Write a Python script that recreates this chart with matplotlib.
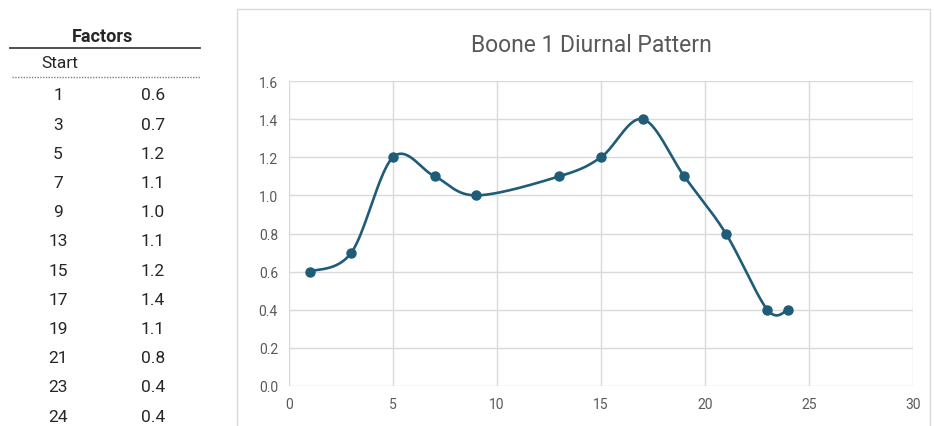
import numpy as np
import matplotlib
matplotlib.use("Agg")
import matplotlib.pyplot as plt
from matplotlib.patches import Rectangle
from matplotlib.lines import Line2D

# Diurnal factors by start hour
start_hours = [1, 3, 5, 7, 9, 13, 15, 17, 19, 21, 23, 24]
factors = [0.6, 0.7, 1.2, 1.1, 1.0, 1.1, 1.2, 1.4, 1.1, 0.8, 0.4, 0.4]
factor_labels = ["0.6", "0.7", "1.2", "1.1", "1.0", "1.1", "1.2", "1.4", "1.1", "0.8", "0.4", "0.4"]

x_ticks = [0, 5, 10, 15, 20, 25, 30]
y_ticks = [0.0, 0.2, 0.4, 0.6, 0.8, 1.0, 1.2, 1.4, 1.6]

title = "Boone 1 Diurnal Pattern"
LINE = "#1f5c78"
TEXT = "#595959"
GRID = "#d9d9d9"

W, H = 934, 427
fig = plt.figure(figsize=(W / 100, H / 100), dpi=100)
fig.patch.set_facecolor("white")


def fx(px):
    return px / W


def fy(py):
    return 1 - py / H


# ---- table of factors on the left ----
tfont = dict(family=["Liberation Sans Narrow", "Roboto"], color="#262626", fontsize=12.5)
fig.text(fx(103), fy(37), "Factors", ha="center", va="center",
         fontweight="bold", **{**tfont, "fontsize": 13})
fig.add_artist(Line2D([fx(10), fx(200)], [fy(49), fy(49)], color="#404040", lw=1.3))
fig.text(fx(60), fy(64), "Start", ha="center", va="center", **tfont)
fig.add_artist(Line2D([fx(12), fx(200)], [fy(78), fy(78)], color="#808080", lw=1.0,
                      linestyle=(0, (1, 1))))
for i, (h, f) in enumerate(zip(start_hours, factor_labels)):
    yy = 96 + i * 29.2
    fig.text(fx(58), fy(yy), str(h), ha="center", va="center", **tfont)
    fig.text(fx(153), fy(yy), f, ha="center", va="center", **tfont)

# ---- chart frame ----
fig.add_artist(Rectangle((fx(237), fy(440)), fx(930) - fx(237), fy(10) - fy(440),
                         transform=fig.transFigure, fill=False,
                         edgecolor="#d9d9d9", lw=1.0))

ax = fig.add_axes([fx(289), fy(387), fx(913) - fx(289), fy(82) - fy(387)])
ax.set_xlim(0, 30)
ax.set_ylim(0, 1.6)
ax.set_xticks(x_ticks)
ax.set_yticks(y_ticks)
ax.set_xticklabels([str(v) for v in x_ticks])
ax.set_yticklabels([f"{v:.1f}" for v in y_ticks])
ax.grid(True, color=GRID, lw=1.0)
ax.set_axisbelow(True)
for s in ax.spines.values():
    s.set_visible(False)
ax.tick_params(length=0, labelsize=10, colors=TEXT, pad=8)
for lab in ax.get_xticklabels() + ax.get_yticklabels():
    lab.set_family("Roboto")

# smoothed line (Catmull-Rom through the points, as cubic Bezier segments)
P = np.column_stack([start_hours, factors]).astype(float)
ext = np.vstack([P[0], P, P[-1]])
t = np.linspace(0, 1, 40)[:, None]
curve = []
for i in range(len(P) - 1):
    p0, p1, p2, p3 = ext[i], ext[i + 1], ext[i + 2], ext[i + 3]
    c1 = p1 + (p2 - p0) / 6
    c2 = p2 - (p3 - p1) / 6
    seg = ((1 - t) ** 3) * p1 + 3 * ((1 - t) ** 2) * t * c1 + 3 * (1 - t) * t ** 2 * c2 + t ** 3 * p2
    curve.append(seg)
curve = np.vstack(curve)
ax.plot(curve[:, 0], curve[:, 1], color=LINE, lw=1.9, solid_capstyle="round", clip_on=False)
ax.plot(start_hours, factors, "o", color=LINE, markersize=6.5, clip_on=False)

fig.text(fx(591), fy(45), title, ha="center", va="center", fontsize=16.5,
         color=TEXT, family="Roboto")

fig.savefig("out.png", dpi=100, facecolor="white")
